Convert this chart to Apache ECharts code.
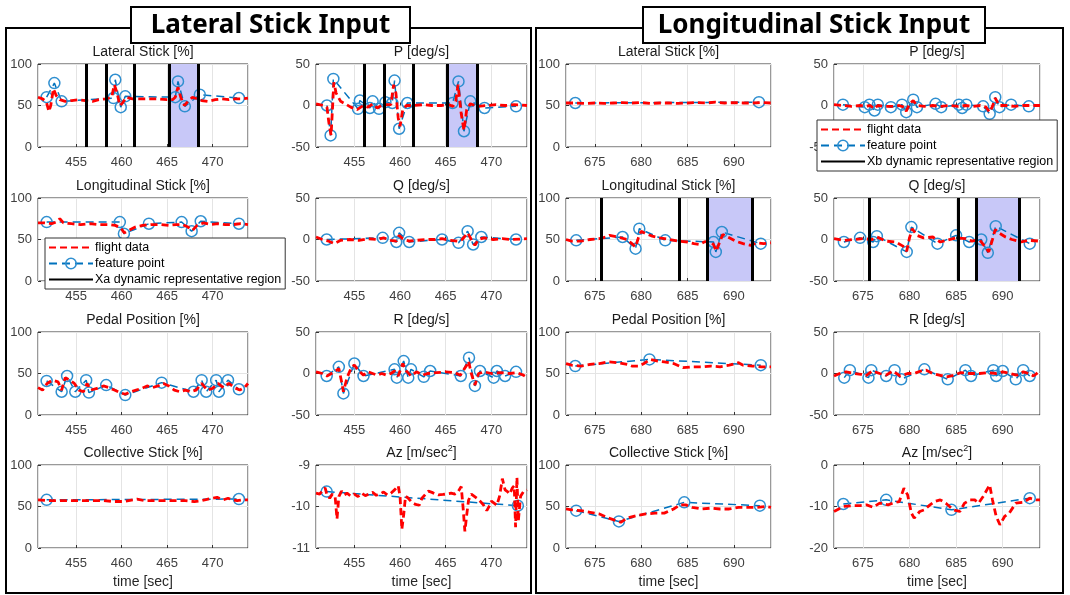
<!DOCTYPE html>
<html>
<head>
<meta charset="utf-8">
<script src="https://cdn.jsdelivr.net/npm/echarts@6.0.0/dist/echarts.min.js"></script>
<style>
html,body{margin:0;padding:0;background:#fff;}
#main{width:1070px;height:595px;}
</style>
</head>
<body>
<div id="main"></div>
<script>
// ---------------- data (time [sec], value) ----------------
// left panel : lateral stick input
var tRangeA = [450.8, 473.9];
var latA_fd = [[450.8,60],[451.3,58],[451.7,55],[452.0,43],[452.2,50],[452.5,70],[452.8,62],[453.2,57],[453.8,55],[454.5,56],[455.2,57],[456.0,56],[456.8,55],[457.5,57],[458.3,58],[458.9,60],[459.2,75],[459.5,65],[459.8,50],[460.1,53],[460.5,60],[461.2,58],[462,58],[463,58],[464,58],[465,57],[465.6,57],[465.9,60],[466.2,72],[466.5,60],[466.9,50],[467.3,55],[467.8,60],[468.3,58],[468.8,56],[469.5,55],[470.3,57],[471,58],[471.8,57],[472.5,58],[473.2,58],[473.9,59]];
var latA_fp = [[451.75,60],[452.6,77],[453.4,55],[459.1,59],[459.3,81],[459.9,48],[460.4,61],[465.9,60],[466.2,79],[466.95,49],[468.6,63],[472.9,59]];

var pA_fd = [[450.8,2],[451.6,0],[452.0,-2],[452.2,-20],[452.45,-36],[452.6,-5],[452.75,28],[453.0,15],[453.5,5],[454.0,2],[454.6,-2],[455.3,-5],[456.0,0],[456.5,-2],[457.0,2],[457.5,-3],[458.0,0],[458.6,1],[459.0,1],[459.3,25],[459.55,15],[459.8,-15],[460.0,-25],[460.3,-5],[460.7,0],[461.5,0],[462.5,1],[463.5,0],[464.5,0],[465.3,1],[465.8,-1],[466.1,5],[466.35,25],[466.7,-10],[467.0,-30],[467.3,-5],[467.7,2],[468.5,-1],[469.5,0],[470.5,1],[471.5,0],[472.5,1],[473.9,0]];
var pA_fp = [[452.0,0],[452.4,-36],[452.7,32],[455.4,-4],[455.6,6],[456.7,-3],[457.0,5],[457.7,-4],[458.4,4],[459.15,3],[459.4,30],[459.9,-28],[460.8,3],[465.75,3],[466.4,29],[467.0,-31],[467.7,5],[469.25,-3],[472.7,-1]];

var lonA_fd = [[450.8,70],[451.5,70],[452.3,69],[452.8,71],[453.2,75],[453.6,70],[454.5,69],[455.5,68],[456.5,69],[457.5,68],[458.5,68],[459.3,67],[459.9,64],[460.3,58],[460.8,61],[461.5,65],[462.3,67],[463.2,68],[464.2,68],[465.2,67],[466.0,68],[466.7,68],[467.3,65],[467.8,61],[468.3,67],[469,70],[469.8,68],[470.6,69],[471.4,68],[472.3,68],[473.1,69],[473.9,68]];
var lonA_fp = [[451.75,71],[459.8,71],[460.25,57],[463.0,69],[466.6,71],[467.7,60],[468.7,72],[472.9,69]];

var qA_fd = [[450.8,3],[451.5,0],[452.2,-2],[452.8,-5],[453.5,-1],[454.5,0],[455.5,-1],[456.5,1],[457.5,0],[458.2,2],[459.0,-1],[459.6,-2],[459.9,5],[460.3,1],[461.0,-2],[461.8,-1],[462.8,0],[463.8,0],[464.6,1],[465.5,-1],[466.3,-2],[466.8,0],[467.4,8],[467.8,0],[468.2,-7],[468.6,0],[469.2,2],[470.2,0],[471.2,1],[472.2,0],[473.9,1]];
var qA_fp = [[451.97,0],[458.1,2],[459.6,-3],[459.9,8],[461.0,-3],[464.6,0],[466.4,-4],[467.4,10],[468.0,-6],[468.9,3],[472.7,0]];

var pedA_fd = [[450.8,33],[451.3,30],[451.8,38],[452.4,42],[453.0,40],[453.4,30],[453.8,45],[454.3,42],[454.8,38],[455.3,30],[455.8,28],[456.2,38],[456.6,30],[457.3,32],[458.0,35],[458.6,33],[459.2,30],[459.8,27],[460.4,25],[461.0,28],[461.6,30],[462.2,32],[462.8,35],[463.4,33],[464.0,35],[464.6,38],[465.2,35],[465.8,30],[466.4,28],[467.0,30],[467.6,28],[468.2,30],[468.8,38],[469.4,30],[470.0,32],[470.6,38],[471.2,33],[471.8,38],[472.4,33],[473.0,30],[473.5,33],[473.9,38]];
var pedA_fp = [[451.75,41],[453.4,28],[454.0,47],[454.9,28],[456.1,42],[456.4,27],[458.3,36],[460.4,24],[464.4,39],[467.9,28],[468.8,42],[469.3,28],[470.4,42],[470.7,28],[471.7,42],[472.9,31]];

var rA_fd = [[450.8,2],[451.5,0],[452.0,-3],[452.8,2],[453.3,6],[453.6,-10],[453.8,-22],[454.2,-5],[454.7,8],[455.0,10],[455.5,3],[456.0,-2],[456.5,2],[457.0,0],[457.5,-2],[458.0,0],[458.5,-2],[459.0,0],[459.4,3],[459.8,-3],[460.3,12],[460.7,3],[461.2,-3],[461.8,2],[462.5,-2],[463.0,0],[464.0,1],[465.0,2],[466.0,1],[466.6,-2],[467.3,10],[467.5,15],[467.8,0],[468.2,-14],[468.6,0],[469.2,2],[470.0,0],[471.0,1],[472.0,0],[472.8,1],[473.5,-2],[473.9,-5]];
var rA_fp = [[451.97,-3],[453.3,8],[453.8,-24],[455.0,12],[456.0,-3],[459.4,5],[459.65,-5],[460.4,15],[460.9,-5],[461.2,5],[462.6,-4],[463.3,3],[466.65,-3],[467.55,19],[468.2,-15],[468.75,3],[470.25,-5],[470.6,3],[471.5,-3],[472.7,2]];

var colA_fd = [[450.8,58],[452,57],[453.5,57],[455,57],[456.5,57],[458,57],[459.2,56],[460.2,56],[461.7,59],[462.5,57],[463.5,57],[465,57],[466,57],[467,57],[468,56],[468.8,57],[469.5,59],[470.5,61],[471.2,58],[471.7,60],[472.2,58],[472.7,57],[473.3,58],[473.9,58]];
var colA_fp = [[451.75,58],[472.9,59]];

var azA_fd = [[450.8,-9.68],[451.2,-9.7],[451.5,-9.62],[451.8,-9.55],[452.0,-9.72],[452.3,-9.8],[452.6,-9.7],[452.9,-9.78],[453.1,-10.3],[453.3,-9.76],[453.6,-9.63],[453.9,-9.72],[454.2,-9.68],[454.6,-9.75],[455.0,-9.7],[455.4,-9.76],[455.8,-9.68],[456.2,-9.74],[456.6,-9.7],[457.0,-9.66],[457.4,-9.73],[457.8,-9.7],[458.2,-9.65],[458.6,-9.72],[459.0,-9.68],[459.4,-9.6],[459.8,-9.5],[460.0,-9.75],[460.2,-10.55],[460.4,-10.2],[460.6,-9.75],[460.9,-9.8],[461.3,-9.9],[461.7,-9.95],[462.1,-9.97],[462.4,-9.8],[462.8,-9.7],[463.1,-9.63],[463.5,-9.66],[463.8,-9.69],[464.2,-9.72],[464.7,-9.71],[465.1,-9.7],[465.6,-9.68],[466.0,-9.7],[466.3,-9.66],[466.7,-9.52],[466.9,-10.02],[467.1,-10.6],[467.3,-10.2],[467.5,-9.85],[467.8,-9.7],[468.1,-9.75],[468.4,-9.8],[468.8,-9.88],[469.1,-9.95],[469.5,-10.1],[469.8,-9.98],[470.0,-9.87],[470.3,-9.92],[470.6,-9.97],[470.9,-9.75],[471.2,-9.33],[471.5,-9.6],[471.8,-9.65],[472.0,-9.7],[472.3,-9.55],[472.5,-9.5],[472.65,-10.5],[472.8,-9.3],[472.95,-10.35],[473.2,-9.75],[473.5,-9.65],[473.9,-9.6]];
var azA_fp = [[451.97,-9.64],[472.9,-9.98]];

var regionLinesA = [456.1, 458.3, 461.4, 465.2, 468.4];
var regionShadeA = [465.2, 468.4];

// right panel : longitudinal stick input
var tRangeB = [671.9, 694.0];
var latB_fd = [[671.9,53],[673,53],[674,52.5],[675,53],[676,52.5],[677,53],[678,53.5],[679,53],[680,53.5],[681,52.5],[682,53],[683,53],[684,52.5],[685,53],[686,53.5],[687,53],[688,54],[689,53],[690,53.5],[691,53],[692,53],[693,53.5],[694,53]];
var latB_fp = [[672.9,53],[692.7,54]];

var pB_fd = [[671.9,1],[672.8,0],[673.8,-1],[674.7,0],[675.3,-1],[675.8,0],[676.2,-4],[676.6,0],[677.3,-1],[678.2,-1],[678.9,0],[679.4,-2],[679.65,-7],[680.0,2],[680.4,6],[680.8,0],[681.6,-1],[682.5,0],[683.4,-1],[684.3,0],[685.2,-1],[686.0,0],[686.8,-1],[687.6,0],[688.2,-2],[688.6,-8],[688.9,-1],[689.2,9],[689.6,0],[690.4,0],[691.3,-1],[692.2,0],[693.1,0],[694,0]];
var pB_fp = [[672.86,1],[675.2,-2],[675.7,1],[676.25,-6],[676.6,1],[678.0,-2],[679.2,1],[679.65,-8],[680.4,7],[680.8,-2],[682.8,2],[683.4,-2],[685.3,1],[685.65,-3],[686.1,1],[687.9,-1],[688.6,-10],[689.2,10],[689.65,-2],[690.9,1],[692.8,-1]];

var lonB_fd = [[671.9,50],[672.5,48],[673.5,48],[674.5,50],[675.5,51],[676.2,53],[676.6,55],[677.5,53],[678.5,50],[679.0,45],[679.4,41],[679.7,52],[680.0,60],[680.5,57],[681.2,54],[682.0,52],[683.0,50],[684.0,48],[685.0,47],[685.7,45],[686.3,44],[686.8,47],[687.4,48],[687.8,44],[688.1,36],[688.4,45],[688.8,56],[689.5,52],[690.2,48],[691.0,45],[691.8,43],[692.5,46],[693.2,45],[694.0,46]];
var lonB_fp = [[673.0,49],[678.0,53],[679.4,39],[679.8,63],[682.6,49],[687.8,47],[688.05,35],[688.7,59],[692.9,45]];

var qB_fd = [[671.9,1],[673.0,-1],[674.0,0],[675.0,1],[676.0,0],[676.5,3],[677.5,-2],[678.5,-3],[679.3,-8],[679.7,-14],[680.0,2],[680.3,13],[680.8,5],[681.5,2],[682.5,3],[683.3,-3],[684.0,-1],[685.0,2],[686.0,1],[686.7,-2],[687.5,0],[688.2,-10],[688.5,-15],[688.9,0],[689.2,12],[689.6,8],[690.3,3],[691.0,0],[692.0,-3],[692.8,-1],[694.0,-2]];
var qB_fp = [[672.96,-3],[674.7,2],[676.1,-3],[676.5,4],[679.7,-15],[680.2,15],[683.0,-5],[685.0,5],[686.4,-3],[687.7,0],[688.4,-16],[689.25,16],[692.9,-5]];

var pedB_fd = [[671.9,62],[672.5,60],[673.5,59],[674.5,61],[675.5,62],[676.5,64],[677.5,63],[678.5,61],[679.0,59],[679.8,59],[680.3,62],[681.0,67],[681.8,65],[682.5,64],[683.5,62],[684.5,57],[685.5,58],[686.5,58],[687.5,59],[688.5,58],[689.5,60],[690.5,63],[691.0,60],[692.0,59],[693.0,58],[694.0,58]];
var pedB_fp = [[672.9,59],[680.9,67],[692.9,60]];

var rB_fd = [[671.9,-3],[672.5,0],[673.2,2],[674.0,0],[674.8,-1],[675.3,-3],[676.0,3],[676.8,0],[677.5,-2],[678.2,3],[679.0,-3],[679.8,0],[680.5,0],[681.2,3],[681.8,4],[682.5,0],[683.2,-2],[684.0,-4],[684.8,-2],[685.5,1],[686.5,0],[687.5,0],[688.5,1],[689.3,0],[690.0,2],[690.8,0],[691.5,-2],[692.2,2],[692.8,0],[693.3,-3],[694.0,3]];
var rB_fp = [[673.0,-5],[673.6,4],[675.6,-5],[675.9,4],[677.5,-3],[678.4,4],[679.1,-7],[681.6,5],[684.1,-7],[686.0,4],[686.6,-3],[689.0,4],[689.3,-3],[690.0,3],[691.4,-7],[692.2,4],[692.9,-3]];

var colB_fd = [[671.9,47],[672.5,46],[673.5,45],[674.5,43],[675.5,41],[676.5,36],[677.3,33],[677.8,31],[678.5,36],[679.5,39],[680.5,41],[681.5,42],[682.5,42],[683.5,47],[684.2,52],[684.8,52],[685.5,49],[686.5,47],[687.5,48],[688.5,47],[689.5,47],[690.5,49],[691.5,49],[692.5,49],[693.5,50],[694.0,49]];
var colB_fp = [[673.0,45],[677.6,32],[684.65,55],[692.8,51]];

var azB_fd = [[671.9,-11.2],[672.9,-10],[673.8,-9.8],[674.7,-9.8],[675.4,-9.6],[676.1,-10.2],[676.8,-9.2],[677.7,-9.6],[678.2,-9.2],[678.9,-8.8],[679.4,-5.6],[679.8,-7.2],[680.2,-11.6],[680.5,-12.8],[681.1,-11.2],[681.6,-10.8],[682.2,-9.6],[682.7,-8.8],[683.3,-8.4],[683.9,-9.2],[684.7,-10.8],[685.4,-11.2],[685.9,-9.2],[686.5,-8.4],[687.0,-8.4],[687.4,-9.2],[687.9,-7.6],[688.6,-4.8],[688.9,-8.4],[689.3,-12.4],[689.7,-14.4],[690.2,-12.4],[690.7,-11.6],[691.4,-9.2],[692.2,-9],[692.9,-8],[693.6,-8.4],[694.0,-8.4]];
var azB_fp = [[672.9,-9.4],[677.5,-8.4],[684.5,-10.8],[692.9,-8]];

var regionLinesLonB = [675.7, 684.1, 687.1, 692.0];
var regionShadeLonB = [687.1, 692.0];
var regionLinesQB = [675.7, 685.2, 687.2, 691.8];
var regionShadeQB = [687.2, 691.8];

// ---------------- layout ----------------
var FONT = '"Liberation Sans", Arial, sans-serif';
var colX = [38, 316, 566, 834];
var colW = [210, 211, 205, 206];
var rowY = [64, 198, 332, 465];
var plotH = 83;

var grids = [], xAxes = [], yAxes = [], series = [], graphics = [];

function addPlot(col, row, title, xr, yr, fd, fp, region) {
    var i = grids.length;
    grids.push({left: colX[col], top: rowY[row], width: colW[col], height: plotH,
        show: true, borderColor: '#333', borderWidth: 1, backgroundColor: '#fff'});
    xAxes.push({
        gridIndex: i, type: 'value', min: xr[0], max: xr[1], splitNumber: 5,
        axisLine: {show: false},
        axisTick: {inside: true, length: 3, lineStyle: {color: '#333'}},
        axisLabel: {fontSize: 13, color: '#404040', fontFamily: FONT, margin: 9,
            showMinLabel: false, showMaxLabel: false,
            formatter: function (v) { return v % 5 === 0 ? String(v) : ''; }},
        splitLine: {show: true, lineStyle: {color: '#e4e4e4'}},
        name: row === 3 ? 'time [sec]' : '', nameLocation: 'middle', nameGap: 27,
        nameTextStyle: {fontSize: 14, color: '#262626', fontFamily: FONT}
    });
    yAxes.push({
        gridIndex: i, type: 'value', min: yr[0], max: yr[1], interval: yr[2],
        axisLine: {show: false},
        axisTick: {inside: true, length: 3, lineStyle: {color: '#333'}},
        axisLabel: {fontSize: 13, color: '#404040', fontFamily: FONT, margin: 6},
        splitLine: {show: true, lineStyle: {color: '#e4e4e4'}}
    });
    graphics.push({type: 'text', x: colX[col] + colW[col] / 2, y: rowY[row] - 12, z: 50,
        style: {text: title, fontSize: 14, fontFamily: FONT, fill: '#1a1a1a',
            align: 'center', verticalAlign: 'middle',
            rich: {sup: {fontSize: 9, fontFamily: FONT, fill: '#1a1a1a', verticalAlign: 'top', padding: [0, 0, 8, 0]}}}});
    if (region) {
        series.push({
            name: region.name, type: 'line', xAxisIndex: i, yAxisIndex: i, data: [],
            symbol: 'none', color: '#000', lineStyle: {color: '#000', width: 2.5}, z: 1,
            markArea: {silent: true, itemStyle: {color: '#c8c8f8'},
                data: [[{xAxis: region.shade[0]}, {xAxis: region.shade[1]}]]},
            markLine: {silent: true, symbol: ['none', 'none'], label: {show: false},
                lineStyle: {color: '#000', width: 3, type: 'solid'},
                data: region.lines.map(function (v) { return {xAxis: v}; })}
        });
    }
    series.push({
        name: 'feature point', type: 'line', xAxisIndex: i, yAxisIndex: i, data: fp,
        symbol: 'circle', symbolSize: 11, showSymbol: true, z: 2,
        color: '#2f8fd0',
        lineStyle: {color: '#0072BD', width: 1.5, type: [8, 5]},
        itemStyle: {color: 'rgba(0,0,0,0)', borderColor: '#2f8fd0', borderWidth: 1.5}
    });
    series.push({
        name: 'flight data', type: 'line', xAxisIndex: i, yAxisIndex: i, data: fd,
        symbol: 'none', z: 3, color: '#ff0000',
        lineStyle: {color: '#ff0000', width: 2.8, type: [7, 4]}
    });
}

var regA = {name: 'Xa dynamic representative region', lines: regionLinesA, shade: regionShadeA};
addPlot(0, 0, 'Lateral Stick [%]', tRangeA, [0, 100, 50], latA_fd, latA_fp, regA);
addPlot(1, 0, 'P [deg/s]', tRangeA, [-50, 50, 50], pA_fd, pA_fp, regA);
addPlot(0, 1, 'Longitudinal Stick [%]', tRangeA, [0, 100, 50], lonA_fd, lonA_fp);
addPlot(1, 1, 'Q [deg/s]', tRangeA, [-50, 50, 50], qA_fd, qA_fp);
addPlot(0, 2, 'Pedal Position [%]', tRangeA, [0, 100, 50], pedA_fd, pedA_fp);
addPlot(1, 2, 'R [deg/s]', tRangeA, [-50, 50, 50], rA_fd, rA_fp);
addPlot(0, 3, 'Collective Stick [%]', tRangeA, [0, 100, 50], colA_fd, colA_fp);
addPlot(1, 3, 'Az [m/sec{sup|2}]', tRangeA, [-11, -9, 1], azA_fd, azA_fp);

addPlot(2, 0, 'Lateral Stick [%]', tRangeB, [0, 100, 50], latB_fd, latB_fp);
addPlot(3, 0, 'P [deg/s]', tRangeB, [-50, 50, 50], pB_fd, pB_fp);
addPlot(2, 1, 'Longitudinal Stick [%]', tRangeB, [0, 100, 50], lonB_fd, lonB_fp,
    {name: 'Xb dynamic representative region', lines: regionLinesLonB, shade: regionShadeLonB});
addPlot(3, 1, 'Q [deg/s]', tRangeB, [-50, 50, 50], qB_fd, qB_fp,
    {name: 'Xb dynamic representative region', lines: regionLinesQB, shade: regionShadeQB});
addPlot(2, 2, 'Pedal Position [%]', tRangeB, [0, 100, 50], pedB_fd, pedB_fp);
addPlot(3, 2, 'R [deg/s]', tRangeB, [-50, 50, 50], rB_fd, rB_fp);
addPlot(2, 3, 'Collective Stick [%]', tRangeB, [0, 100, 50], colB_fd, colB_fp);
addPlot(3, 3, 'Az [m/sec{sup|2}]', tRangeB, [-20, 0, 10], azB_fd, azB_fp);

// panel frames and headers
graphics.push(
    {type: 'rect', z: 60, shape: {x: 6, y: 28, width: 525, height: 565}, style: {fill: 'none', stroke: '#000', lineWidth: 2}},
    {type: 'rect', z: 60, shape: {x: 536, y: 28, width: 527, height: 565}, style: {fill: 'none', stroke: '#000', lineWidth: 2}},
    {type: 'rect', z: 61, shape: {x: 131, y: 7, width: 279, height: 36}, style: {fill: '#fff', stroke: '#000', lineWidth: 2}},
    {type: 'text', z: 62, x: 270.5, y: 26, style: {text: 'Lateral Stick Input', fontSize: 26, fontWeight: 'bold', fontFamily: '"Noto Sans", sans-serif', fill: '#000', align: 'center', verticalAlign: 'middle'}},
    {type: 'rect', z: 61, shape: {x: 643, y: 7, width: 342, height: 36}, style: {fill: '#fff', stroke: '#000', lineWidth: 2}},
    {type: 'text', z: 62, x: 814, y: 26, style: {text: 'Longitudinal Stick Input', fontSize: 26, fontWeight: 'bold', fontFamily: '"Noto Sans", sans-serif', fill: '#000', align: 'center', verticalAlign: 'middle'}}
);

// legend entries: plain lines for flight data / region, line + ring for feature point
var noMarker = {color: 'rgba(0,0,0,0)', borderColor: 'rgba(0,0,0,0)', borderWidth: 0};
function legendFor(regionName, left, top) {
    return {
        orient: 'vertical', left: left, top: top, z: 20,
        data: [
            {name: 'flight data', itemStyle: noMarker},
            {name: 'feature point', itemStyle: {color: 'rgba(0,0,0,0)', borderColor: '#2f8fd0', borderWidth: 1.5}},
            {name: regionName, itemStyle: noMarker}
        ],
        itemWidth: 44, itemHeight: 13, itemGap: 3, padding: [3, 4, 3, 3],
        backgroundColor: '#fff', borderColor: '#333', borderWidth: 1,
        selectedMode: false,
        textStyle: {fontSize: 12.5, fontFamily: FONT, color: '#000', padding: [0, 0, 0, -3]}
    };
}

var chart = echarts.init(document.getElementById('main'));
chart.setOption({
    animation: false,
    backgroundColor: '#fff',
    grid: grids,
    xAxis: xAxes,
    yAxis: yAxes,
    series: series,
    legend: [legendFor('Xa dynamic representative region', 45, 238),
             legendFor('Xb dynamic representative region', 817, 120)],
    graphic: graphics
});
</script>
</body>
</html>
